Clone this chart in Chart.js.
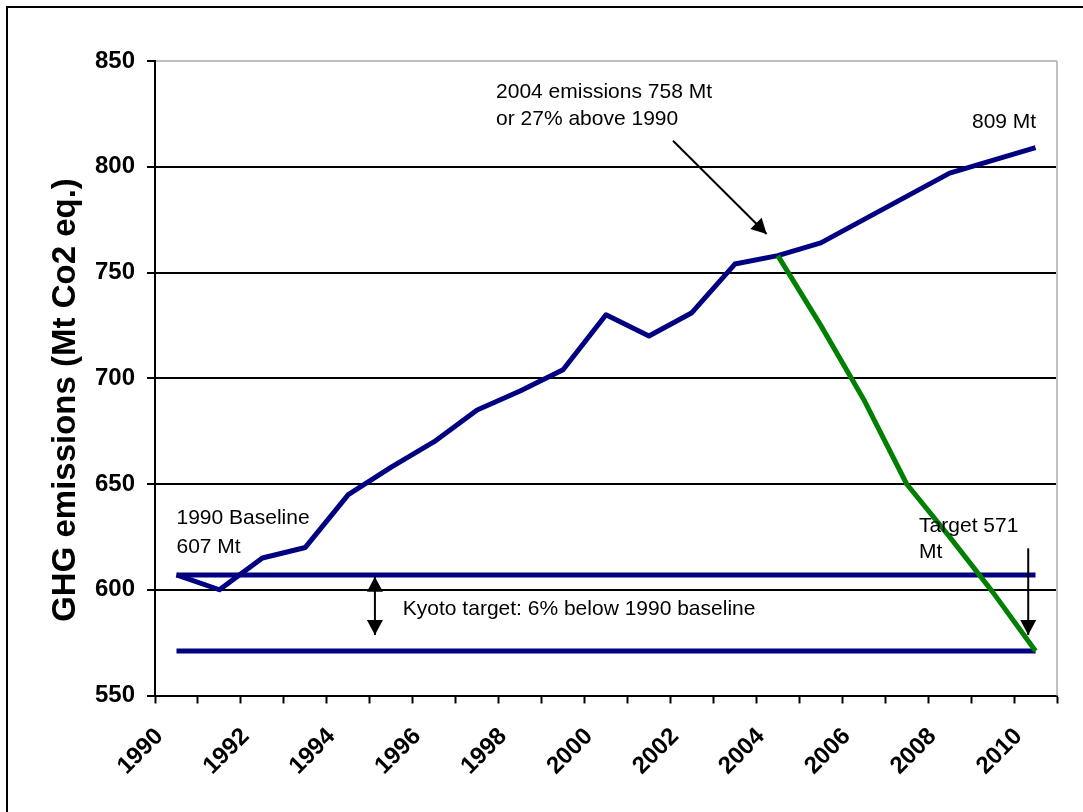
<!DOCTYPE html>
<html>
<head>
<meta charset="utf-8">
<title>GHG emissions</title>
<script src="https://cdn.jsdelivr.net/npm/chart.js@4.4.1/dist/chart.umd.min.js"></script>
<style>
  html, body { margin: 0; padding: 0; background: #fff; }
  canvas { display: block; }
</style>
</head>
<body>
<canvas id="ghg" width="1083" height="812"></canvas>
<script>
// yearly emissions, Mt CO2 eq.
const years = ['1990', '1991', '1992', '1993', '1994', '1995', '1996', '1997', '1998', '1999', '2000',
               '2001', '2002', '2003', '2004', '2005', '2006', '2007', '2008', '2009', '2010'];
const emissions = [607, 600, 615, 620, 645, 658, 670, 685, 694, 704, 730,
                   720, 731, 754, 758, 764, 775, 786, 797, 803, 809];
// path from 2004 down to the Kyoto target
const kyotoPath = [null, null, null, null, null, null, null, null, null, null, null,
                   null, null, null, 758, 725, 690, 650, 625, 599, 571];
const baseline = [607, 607, 607, 607, 607, 607, 607, 607, 607, 607, 607,
                  607, 607, 607, 607, 607, 607, 607, 607, 607, 607];
const target = [571, 571, 571, 571, 571, 571, 571, 571, 571, 571, 571,
                571, 571, 571, 571, 571, 571, 571, 571, 571, 571];
const yTicks = [550, 600, 650, 700, 750, 800, 850];

// text notes and arrows, placed in (year index, Mt) units
const notes = [
  { text: '2004 emissions 758 Mt', x: 7.44, y: 832.5 },
  { text: 'or 27% above 1990', x: 7.44, y: 819.7 },
  { text: '809 Mt', x: 18.52, y: 818.2 },
  { text: '1990 Baseline', x: 0, y: 631.1 },
  { text: '607 Mt', x: 0, y: 617.5 },
  { text: 'Kyoto target: 6% below 1990 baseline', x: 5.27, y: 588.1 },
  { text: 'Target 571', x: 17.29, y: 627.4 },
  { text: 'Mt', x: 17.29, y: 615.0 }
];
const arrows = [
  { from: [11.56, 812.3], to: [13.74, 768.2], both: false },
  { from: [4.62, 578.6], to: [4.62, 606.2], both: true },
  { from: [19.83, 619.6], to: [19.83, 578.6], both: false }
];

const FONT = "'Liberation Sans', Arial, sans-serif";

function arrowHead(ctx, x1, y1, x2, y2) {
  const a = Math.atan2(y2 - y1, x2 - x1);
  const len = 15, half = 8;
  ctx.beginPath();
  ctx.moveTo(x2, y2);
  ctx.lineTo(x2 - len * Math.cos(a) + half * Math.sin(a), y2 - len * Math.sin(a) - half * Math.cos(a));
  ctx.lineTo(x2 - len * Math.cos(a) - half * Math.sin(a), y2 - len * Math.sin(a) + half * Math.cos(a));
  ctx.closePath();
  ctx.fill();
}

const decorations = {
  id: 'decorations',
  beforeDraw(chart) {
    const ctx = chart.ctx;
    ctx.save();
    ctx.fillStyle = '#fff';
    ctx.fillRect(0, 0, chart.width, chart.height);
    ctx.strokeStyle = '#000';
    ctx.lineWidth = 2;
    ctx.strokeRect(7, 7, chart.width + 20, chart.height + 20);
    ctx.restore();
  },
  beforeDatasetsDraw(chart) {
    const { ctx, chartArea } = chart;
    ctx.save();
    ctx.strokeStyle = '#c0c0c0';
    ctx.lineWidth = 2;
    ctx.beginPath();
    ctx.moveTo(chartArea.right, chartArea.top);
    ctx.lineTo(chartArea.right, chartArea.bottom);
    ctx.stroke();
    ctx.restore();
  },
  afterDraw(chart) {
    const ctx = chart.ctx;
    const xs = chart.scales.x, ys = chart.scales.y;
    ctx.save();

    // y axis title
    ctx.translate(66, 400);
    ctx.rotate(-Math.PI / 2);
    ctx.font = 'bold 33px ' + FONT;
    ctx.fillStyle = '#000';
    ctx.textAlign = 'center';
    ctx.textBaseline = 'middle';
    ctx.fillText('GHG emissions (Mt Co2 eq.)', 0, 0);
    ctx.setTransform(1, 0, 0, 1, 0, 0);

    ctx.font = '21px ' + FONT;
    ctx.textAlign = 'left';
    ctx.textBaseline = 'alphabetic';
    notes.forEach(n => {
      ctx.fillText(n.text, xs.getPixelForValue(n.x), ys.getPixelForValue(n.y));
    });

    ctx.strokeStyle = '#000';
    ctx.lineWidth = 2;
    arrows.forEach(a => {
      const x1 = xs.getPixelForValue(a.from[0]), y1 = ys.getPixelForValue(a.from[1]);
      const x2 = xs.getPixelForValue(a.to[0]), y2 = ys.getPixelForValue(a.to[1]);
      ctx.beginPath();
      ctx.moveTo(x1, y1);
      ctx.lineTo(x2, y2);
      ctx.stroke();
      arrowHead(ctx, x1, y1, x2, y2);
      if (a.both) arrowHead(ctx, x2, y2, x1, y1);
    });
    ctx.restore();
  }
};

const line = (data, color) => ({
  data: data,
  borderColor: color,
  borderWidth: 5,
  pointRadius: 0,
  tension: 0,
  fill: false,
  borderJoinStyle: 'round',
  spanGaps: false
});

new Chart(document.getElementById('ghg'), {
  type: 'line',
  data: {
    labels: years,
    datasets: [
      line(kyotoPath, '#008000'),
      line(emissions, '#000080'),
      line(baseline, '#000080'),
      line(target, '#000080')
    ]
  },
  options: {
    responsive: false,
    animation: false,
    devicePixelRatio: 1,
    layout: { padding: { left: 0, top: 61, right: 26, bottom: 0 } },
    plugins: { legend: { display: false }, tooltip: { enabled: false } },
    scales: {
      x: {
        offset: true,
        border: { color: '#000', width: 2 },
        grid: { offset: true, drawOnChartArea: false, tickLength: 8, tickColor: '#000', tickWidth: 2 },
        ticks: {
          autoSkip: false,
          minRotation: 45,
          maxRotation: 45,
          labelOffset: -17,
          padding: 19,
          color: '#000',
          font: { family: FONT, size: 24, weight: 'bold' },
          callback: (v, i) => (i % 2 === 0 ? years[i] : '')
        },
        afterFit: s => { s.height = 116.5; }
      },
      y: {
        min: 550,
        max: 850,
        border: { color: '#000', width: 2 },
        grid: {
          color: c => (c.tick && c.tick.value === 850 ? '#c0c0c0' : '#000'),
          lineWidth: 2,
          tickLength: 8,
          tickColor: '#000',
          tickWidth: 2
        },
        afterBuildTicks: s => { s.ticks = yTicks.map(v => ({ value: v })); },
        ticks: {
          padding: 12,
          color: '#000',
          font: { family: FONT, size: 24, weight: 'bold' }
        },
        afterFit: s => { s.width = 155; }
      }
    }
  },
  plugins: [decorations]
});
</script>
</body>
</html>
